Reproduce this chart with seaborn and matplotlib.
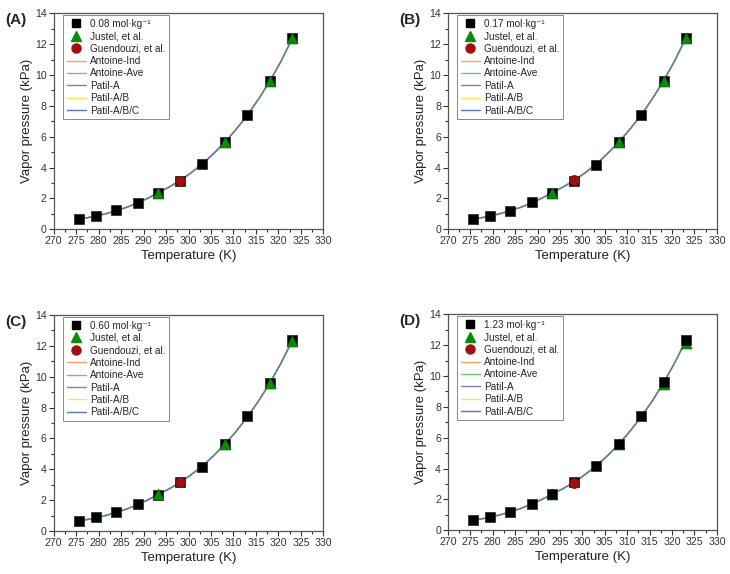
import matplotlib
matplotlib.use("Agg")
import matplotlib.pyplot as plt
from matplotlib.lines import Line2D
from matplotlib.ticker import MultipleLocator
import numpy as np
import pandas as pd
import seaborn as sns

# Measured temperatures (K)
temps = [275.6, 279.4, 283.9, 288.7, 293.2, 298.2, 303.1, 308.1, 313.1, 318.1, 323.1]
justel_T = [293.2, 308.1, 318.1, 323.1]
guend_T = [298.2]

# Panel labels / molalities
panels = ["(A)", "(B)", "(C)", "(D)"]
molality = ["0.08", "0.17", "0.60", "1.23"]

# This work (squares), kPa
meas_A = [0.65, 0.86, 1.22, 1.72, 2.36, 3.15, 4.26, 5.65, 7.40, 9.60, 12.38]
meas_B = [0.65, 0.86, 1.21, 1.75, 2.36, 3.15, 4.19, 5.66, 7.41, 9.62, 12.40]
meas_C = [0.65, 0.89, 1.23, 1.73, 2.36, 3.15, 4.14, 5.64, 7.42, 9.60, 12.36]
meas_D = [0.65, 0.86, 1.19, 1.73, 2.34, 3.12, 4.19, 5.60, 7.38, 9.61, 12.36]

# Justel et al. (triangles)
justel_A = [2.38, 5.68, 9.63, 12.42]
justel_B = [2.37, 5.68, 9.63, 12.42]
justel_C = [2.37, 5.65, 9.58, 12.34]
justel_D = [2.33, 5.57, 9.45, 12.14]

# Guendouzi et al. (circle)
guend_A = [3.16]
guend_B = [3.17]
guend_C = [3.17]
guend_D = [3.07]

# Model curves (all five fits overlap), read at the curve temperatures
curve_T = [275.6, 277.5, 279.4, 281.5, 283.9, 286.3, 288.7, 291.0, 293.2, 295.7,
           298.2, 300.6, 303.1, 305.6, 308.1, 310.6, 313.1, 315.6, 318.1, 320.6, 323.1]
curve_A = [0.66, 0.75, 0.86, 1.00, 1.20, 1.43, 1.71, 2.02, 2.37, 2.74, 3.17,
           3.67, 4.24, 4.91, 5.64, 6.48, 7.40, 8.45, 9.60, 10.90, 12.38]
curve_B = [0.66, 0.75, 0.86, 1.00, 1.20, 1.43, 1.71, 2.02, 2.37, 2.74, 3.17,
           3.66, 4.22, 4.90, 5.64, 6.48, 7.40, 8.45, 9.61, 10.92, 12.40]
curve_C = [0.66, 0.75, 0.86, 1.00, 1.20, 1.43, 1.71, 2.02, 2.36, 2.73, 3.16,
           3.65, 4.21, 4.88, 5.62, 6.46, 7.39, 8.43, 9.59, 10.89, 12.35]
curve_D = [0.65, 0.74, 0.85, 0.99, 1.19, 1.42, 1.70, 2.00, 2.34, 2.70, 3.12,
           3.61, 4.17, 4.83, 5.57, 6.41, 7.34, 8.38, 9.55, 10.85, 12.30]

meas = [meas_A, meas_B, meas_C, meas_D]
justel = [justel_A, justel_B, justel_C, justel_D]
guend = [guend_A, guend_B, guend_C, guend_D]
curves = [curve_A, curve_B, curve_C, curve_D]

fit_names = ["Antoine-Ind", "Antoine-Ave", "Patil-A", "Patil-A/B", "Patil-A/B/C"]
fit_colors = ["#F5A25D", "#6CC76C", "#8C7F9C", "#F7E460", "#557AA3"]

sns.set_style("ticks")
plt.rcParams["font.family"] = ["Liberation Sans", "DejaVu Sans"]

fig = plt.figure(figsize=(7.3, 5.74), dpi=100)
# axes boxes in figure fractions
boxes = [(0.0735, 0.6005, 0.3695, 0.3765),
         (0.6135, 0.6005, 0.3685, 0.3765),
         (0.0735, 0.0749, 0.3695, 0.3765),
         (0.6135, 0.0761, 0.3685, 0.3765)]

for i in range(4):
    ax = fig.add_axes(boxes[i])
    for name, col in zip(fit_names, fit_colors):
        sns.lineplot(x=curve_T, y=curves[i], ax=ax, color=col, lw=1.0,
                     sort=False, zorder=2)
    sq_z = 5 if i == 3 else 3
    sns.scatterplot(x=temps, y=meas[i], ax=ax, marker="s", s=50, color="black",
                    edgecolor="#222222", linewidth=0.5, zorder=sq_z)
    sns.scatterplot(x=justel_T, y=justel[i], ax=ax, marker="^", s=62,
                    color="#0B8A0B", edgecolor="#0B6A0B", linewidth=0.5, zorder=4)
    sns.scatterplot(x=guend_T, y=guend[i], ax=ax, marker="o", s=52,
                    color="#A00F10", edgecolor="#7A0A0A", linewidth=0.5, zorder=6)

    ax.set_xlim(270, 330)
    ax.set_ylim(0, 14)
    ax.xaxis.set_major_locator(MultipleLocator(5))
    ax.xaxis.set_minor_locator(MultipleLocator(2.5))
    ax.yaxis.set_major_locator(MultipleLocator(2))
    ax.yaxis.set_minor_locator(MultipleLocator(1))
    ax.tick_params(which="major", direction="out", length=3.5, width=0.8,
                   labelsize=7.6, colors="#333333", pad=1.5)
    ax.tick_params(which="minor", direction="out", length=2, width=0.8,
                   colors="#333333")
    ax.tick_params(top=False, right=False, which="both")
    for sp in ax.spines.values():
        sp.set_visible(True)
        sp.set_color("#555555")
        sp.set_linewidth(0.9)
    ax.set_xlabel("Temperature (K)", fontsize=9.5, color="#222222", labelpad=3)
    ax.set_ylabel("Vapor pressure (kPa)", fontsize=9.5, color="#222222", labelpad=1.5)

    handles = [
        Line2D([], [], ls="none", marker="s", ms=6, color="black"),
        Line2D([], [], ls="none", marker="^", ms=7, color="#0B8A0B"),
        Line2D([], [], ls="none", marker="o", ms=6.5, color="#A00F10"),
    ] + [Line2D([], [], color=c, lw=1.0) for c in fit_colors]
    labels = [molality[i] + " mol·kg⁻¹", "Justel, et al.",
              "Guendouzi, et al."] + fit_names
    leg = ax.legend(handles, labels, loc="upper left",
                    bbox_to_anchor=(0.035, 0.99), fontsize=7.2, frameon=True,
                    fancybox=False, edgecolor="#888888", framealpha=1,
                    borderpad=0.35, labelspacing=0.24, handlelength=1.9,
                    handletextpad=0.45, borderaxespad=0)
    leg.get_frame().set_linewidth(0.7)

    fig.text(boxes[i][0] - 0.066, boxes[i][1] + boxes[i][3] - 0.012, panels[i],
             fontsize=11, fontweight="bold", ha="left", va="center")

fig.savefig("out.png", dpi=100)
